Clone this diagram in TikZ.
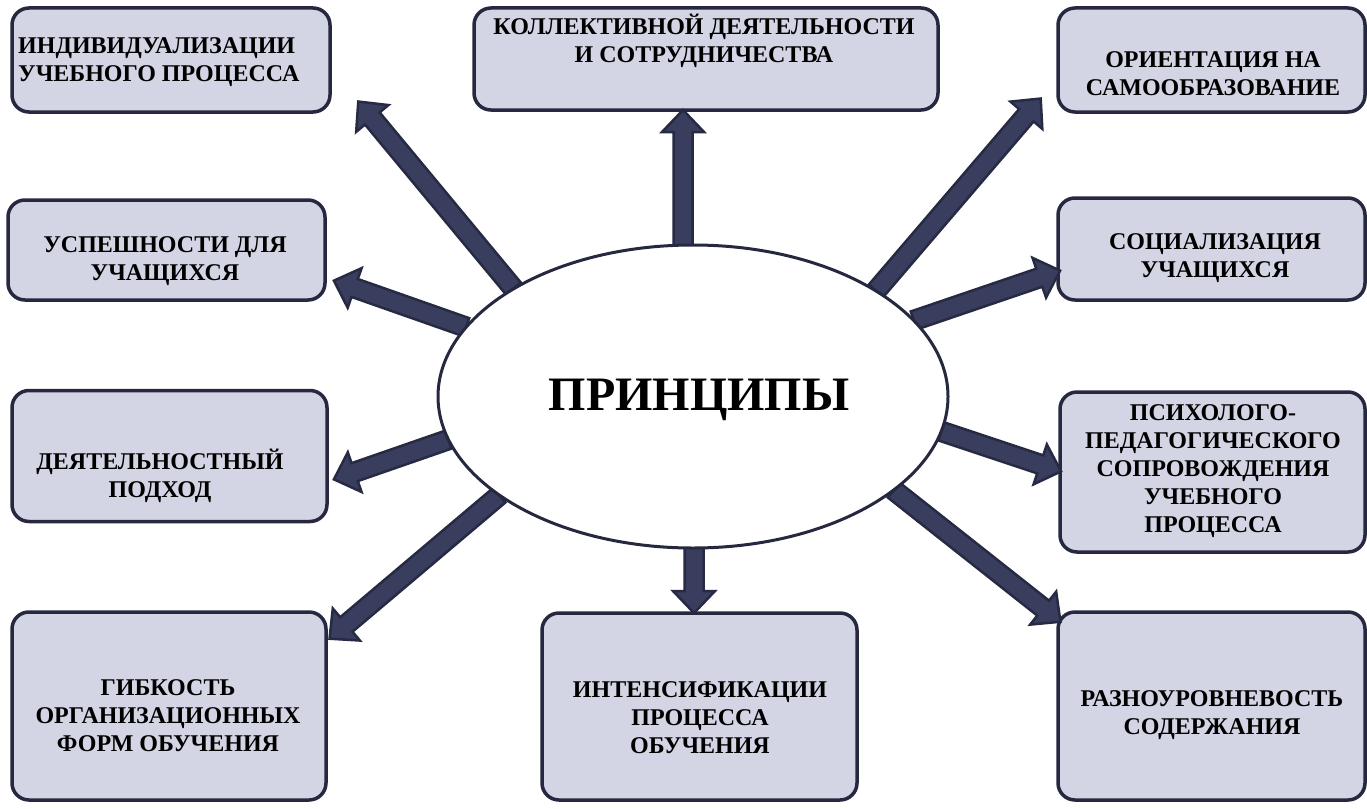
\documentclass[tikz,border=0pt]{standalone}
\usepackage{fontspec}
\setmainfont{Liberation Serif}
\usetikzlibrary{calc,shapes.geometric}
\definecolor{boxfill}{HTML}{D3D5E4}
\definecolor{boxline}{HTML}{262840}
\definecolor{arrfill}{HTML}{3A3E5E}
\definecolor{arrline}{HTML}{262A42}
\tikzset{
  box/.style={draw=boxline, fill=boxfill, line width=3.5pt, rounded corners=17pt,
    rectangle, inner sep=0pt},
  txt/.style={font=\bfseries\fontsize{24}{28}\selectfont, align=center, inner sep=0pt, text=black},
  blockarrow/.style={draw=arrline, fill=arrfill, line width=2.5pt, line join=miter,
    to path={let \p1=(\tikztostart), \p2=(\tikztotarget),
      \n1={atan2(\y2-\y1,\x2-\x1)}, \n2={veclen(\x2-\x1,\y2-\y1)} in
      ($(\p1)+(\n1+90:9.5pt)$)
      -- ($(\p1)+(\n1:{(\n2-24)*1pt})+(\n1+90:9.5pt)$)
      -- ($(\p1)+(\n1:{(\n2-24)*1pt})+(\n1+90:21pt)$)
      -- ($(\p1)+(\n1:{(\n2-2)*1pt})$)
      -- ($(\p1)+(\n1:{(\n2-24)*1pt})+(\n1-90:21pt)$)
      -- ($(\p1)+(\n1:{(\n2-24)*1pt})+(\n1-90:9.5pt)$)
      -- ($(\p1)+(\n1-90:9.5pt)$) -- cycle}}
}
\begin{document}
\begin{tikzpicture}[x=1pt,y=-1pt]
\useasboundingbox (0,0) rectangle (1367,808);

% boxes
\node[box, minimum width=318pt, minimum height=104pt] (b1) at (171,60) {};
\node[box, minimum width=464pt, minimum height=102pt] (b2) at (706,59) {};
\node[box, minimum width=307pt, minimum height=104pt] (b3) at (1211.5,60) {};
\node[box, minimum width=317pt, minimum height=100pt] (b4) at (166.5,250) {};
\node[box, minimum width=307pt, minimum height=102pt] (b5) at (1211.5,249) {};
\node[box, minimum width=315pt, minimum height=131pt] (b6) at (169.5,456) {};
\node[box, minimum width=305pt, minimum height=160pt] (b7) at (1212.5,472) {};
\node[box, minimum width=314pt, minimum height=188pt] (b8) at (169,706) {};
\node[box, minimum width=315pt, minimum height=187pt] (b9) at (699.5,706.5) {};
\node[box, minimum width=307pt, minimum height=188pt] (b10) at (1211.5,706) {};

% texts
\node[txt, align=left, anchor=west] (t1) at (18,62) {ИНДИВИДУАЛИЗАЦИИ\\УЧЕБНОГО ПРОЦЕССА};
\node[txt] (t2) at (704,41) {КОЛЛЕКТИВНОЙ ДЕЯТЕЛЬНОСТИ\\И СОТРУДНИЧЕСТВА};
\node[txt] (t3) at (1213,74) {ОРИЕНТАЦИЯ НА\\САМООБРАЗОВАНИЕ};
\node[txt] (t4) at (165,261) {УСПЕШНОСТИ ДЛЯ\\УЧАЩИХСЯ};
\node[txt] (t5) at (1215,258) {СОЦИАЛИЗАЦИЯ\\УЧАЩИХСЯ};
\node[txt] (t6) at (160,476) {ДЕЯТЕЛЬНОСТНЫЙ\\ПОДХОД};
\node[txt] (t7) at (1213,471) {ПСИХОЛОГО-\\ПЕДАГОГИЧЕСКОГО\\СОПРОВОЖДЕНИЯ\\УЧЕБНОГО\\ПРОЦЕССА};
\node[txt] (t8) at (168,716) {ГИБКОСТЬ\\ОРГАНИЗАЦИОННЫХ\\ФОРМ ОБУЧЕНИЯ};
\node[txt] (t9) at (700,718) {ИНТЕНСИФИКАЦИИ\\ПРОЦЕССА\\ОБУЧЕНИЯ};
\node[txt] (t10) at (1212,715) {РАЗНОУРОВНЕВОСТЬ\\СОДЕРЖАНИЯ};

% ellipse geometry for anchors
\path node[ellipse, minimum width=510pt, minimum height=303pt, inner sep=0pt] (e) at (693,396.5) {};

% arrow tips
\coordinate (c1) at (357,100);
\coordinate (c2) at (683,108);
\coordinate (c3) at (1042,97);
\coordinate (c4) at (332,280);
\coordinate (c5) at (1062,270);
\coordinate (c6) at (332,480);
\coordinate (c7) at (1063,472);
\coordinate (c8) at (328,640);
\coordinate (c9) at (694,615);
\coordinate (c10) at (1062,623);
\coordinate (s2) at ($(e.north)+(-10,2)$);
\coordinate (s9) at ($(e.south)+(1,-2)$);

\draw[blockarrow] (e.149) to (c1);
\draw[blockarrow] (s2) to (c2);
\draw[blockarrow] (e.30) to (c3);
\draw[blockarrow] (e.163.6) to (c4);
\draw[blockarrow] (e.19) to (c5);
\draw[blockarrow] (e.190) to (c6);
\draw[blockarrow] (e.352) to (c7);
\draw[blockarrow] (e.207.7) to (c8);
\draw[blockarrow] (s9) to (c9);
\draw[blockarrow] (e.335.4) to (c10);

% ellipse on top
\node[ellipse, draw=boxline, fill=white, line width=3pt, minimum width=510pt, minimum height=303pt,
  inner sep=0pt] (ec) at (693,396.5) {};
\node[font=\bfseries\fontsize{48}{56}\selectfont, inner sep=0pt] (tp) at (699,400) {ПРИНЦИПЫ};
\end{tikzpicture}
\end{document}
